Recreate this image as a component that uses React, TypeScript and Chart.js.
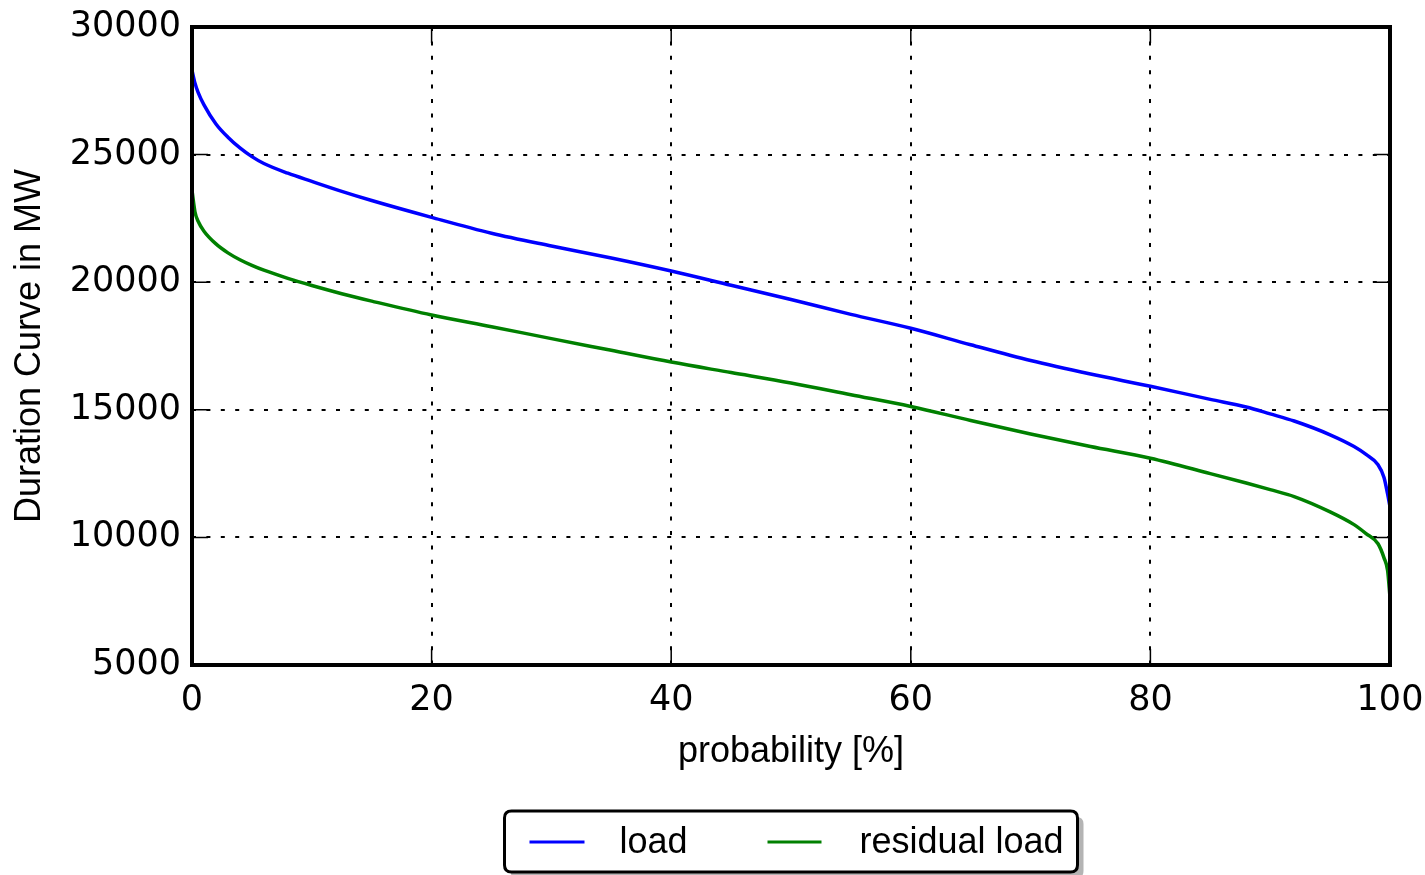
import React, { useEffect, useRef } from 'react';
import { Chart, registerables } from 'chart.js';

Chart.register(...registerables);

// ---- data ----
const probability = [0, 0.25, 0.5, 1, 2, 3, 4, 5, 6, 8, 10, 12.5, 15, 20, 25, 30, 35, 40, 45, 50, 55, 60, 65, 70, 75, 80, 85, 88, 90, 92, 95, 97, 98, 99, 99.5, 99.8, 100];
const loadMW = [28300, 27800, 27450, 26950, 26200, 25680, 25260, 24920, 24650, 24270, 23950, 23560, 23200, 22540, 21920, 21420, 20950, 20440, 19880, 19320, 18740, 18195, 17550, 16930, 16400, 15920, 15410, 15110, 14840, 14560, 14020, 13560, 13250, 12850, 12350, 11700, 11200];
const residualLoadMW = [23600, 22750, 22400, 22000, 21500, 21150, 20880, 20660, 20470, 20150, 19870, 19550, 19260, 18715, 18257, 17790, 17330, 16870, 16460, 16050, 15590, 15130, 14580, 14050, 13560, 13100, 12500, 12130, 11870, 11600, 11000, 10500, 10150, 9750, 9200, 8700, 7660];

const seriesLabels = ['load', 'residual load'];
const seriesColors = ['#0000ff', '#008000'];

const xTickValues = [0, 20, 40, 60, 80, 100];
const yTickValues = [5000, 10000, 15000, 20000, 25000, 30000];

const xTitle = 'probability [%]';
const yTitle = 'Duration Curve in MW';

const TICK_FONT = { family: "'DejaVu Sans', sans-serif", size: 35 };
const TEXT_FAMILY = "'Liberation Sans', Arial, sans-serif";

const framePlugin = {
  id: 'frameTicks',
  afterDatasetsDraw(chart: any) {
    const { ctx, chartArea } = chart;
    const { left, top, right, bottom } = chartArea;
    const xs = chart.scales.x;
    const ys = chart.scales.y;
    const len = 16;
    ctx.save();
    ctx.strokeStyle = '#000';
    ctx.lineWidth = 1.5;
    ctx.setLineDash([]);
    ctx.beginPath();
    xs.ticks.forEach((t: any) => {
      const px = xs.getPixelForValue(t.value);
      ctx.moveTo(px, bottom);
      ctx.lineTo(px, bottom - len);
      ctx.moveTo(px, top);
      ctx.lineTo(px, top + len);
    });
    ys.ticks.forEach((t: any) => {
      const py = ys.getPixelForValue(t.value);
      ctx.moveTo(left, py);
      ctx.lineTo(left + len, py);
      ctx.moveTo(right, py);
      ctx.lineTo(right - len, py);
    });
    ctx.stroke();
    ctx.lineWidth = 4;
    ctx.strokeRect(left, top, right - left, bottom - top);
    ctx.restore();
  },
};

function roundRectPath(ctx: CanvasRenderingContext2D, x: number, y: number, w: number, h: number, r: number) {
  ctx.beginPath();
  ctx.moveTo(x + r, y);
  ctx.lineTo(x + w - r, y);
  ctx.quadraticCurveTo(x + w, y, x + w, y + r);
  ctx.lineTo(x + w, y + h - r);
  ctx.quadraticCurveTo(x + w, y + h, x + w - r, y + h);
  ctx.lineTo(x + r, y + h);
  ctx.quadraticCurveTo(x, y + h, x, y + h - r);
  ctx.lineTo(x, y + r);
  ctx.quadraticCurveTo(x, y, x + r, y);
  ctx.closePath();
}

const legendPlugin = {
  id: 'boxLegend',
  afterDraw(chart: any) {
    const { ctx, chartArea } = chart;
    const cx = (chartArea.left + chartArea.right) / 2;
    const w = 573;
    const h = 61;
    const bx = cx - w / 2;
    const by = 811;
    ctx.save();
    ctx.fillStyle = '#b4b4b4';
    roundRectPath(ctx, bx + 6, by + 6, w, h, 7);
    ctx.fill();
    ctx.fillStyle = '#ffffff';
    roundRectPath(ctx, bx, by, w, h, 7);
    ctx.fill();
    ctx.strokeStyle = '#000';
    ctx.lineWidth = 3;
    ctx.stroke();

    const itemOffsets = [
      { line0: 25, line1: 80, text: 115 },
      { line0: 263, line1: 317, text: 355 },
    ];
    const midY = by + 31;
    ctx.font = `36px ${TEXT_FAMILY}`;
    ctx.textBaseline = 'middle';
    ctx.textAlign = 'left';
    chart.data.datasets.forEach((ds: any, i: number) => {
      const o = itemOffsets[i];
      ctx.strokeStyle = ds.borderColor;
      ctx.lineWidth = 3;
      ctx.beginPath();
      ctx.moveTo(bx + o.line0, midY);
      ctx.lineTo(bx + o.line1, midY);
      ctx.stroke();
      ctx.fillStyle = '#000';
      ctx.fillText(ds.label, bx + o.text, midY + 1);
    });
    ctx.restore();
  },
};

export default function App() {
  const canvasRef = useRef<HTMLCanvasElement | null>(null);

  useEffect(() => {
    if (!canvasRef.current) return;
    const series = [loadMW, residualLoadMW];
    const chart = new Chart(canvasRef.current, {
      type: 'line',
      data: {
        datasets: series.map((vals, i) => ({
          label: seriesLabels[i],
          data: probability.map((p, k) => ({ x: p, y: vals[k] })),
          borderColor: seriesColors[i],
          backgroundColor: seriesColors[i],
          borderWidth: 3.5,
          pointRadius: 0,
          cubicInterpolationMode: 'monotone' as const,
          fill: false,
        })),
      },
      options: {
        animation: false,
        responsive: false,
        events: [],
        layout: { padding: { top: 27, right: 35, left: 0, bottom: 0 } },
        plugins: {
          legend: { display: false },
          tooltip: { enabled: false },
        },
        scales: {
          x: {
            type: 'linear',
            min: 0,
            max: 100,
            afterFit: (scale: any) => {
              scale.height = 210;
              scale.paddingLeft = 0;
              scale.paddingRight = 0;
            },
            afterBuildTicks: (scale: any) => { scale.ticks = xTickValues.map((v) => ({ value: v })); },
            ticks: {
              color: '#000',
              font: TICK_FONT,
              padding: 15,
              maxRotation: 0,
              callback: (v: any) => `${v}`,
            },
            grid: { color: '#000', lineWidth: 2, drawTicks: false },
            border: { display: false, dash: [4, 10.4] },
            title: {
              display: true,
              text: xTitle,
              color: '#000',
              font: { family: TEXT_FAMILY, size: 36 },
              padding: { top: 0, bottom: 101 },
            },
          },
          y: {
            type: 'linear',
            min: 5000,
            max: 30000,
            afterFit: (scale: any) => {
              scale.width = 192;
              scale.paddingTop = 0;
              scale.paddingBottom = 0;
            },
            afterBuildTicks: (scale: any) => { scale.ticks = yTickValues.map((v) => ({ value: v })); },
            ticks: {
              color: '#000',
              font: TICK_FONT,
              padding: 11,
              callback: (v: any) => `${v}`,
            },
            grid: { color: '#000', lineWidth: 2, drawTicks: false },
            border: { display: false, dash: [4, 10.4] },
            title: {
              display: true,
              text: yTitle,
              color: '#000',
              font: { family: TEXT_FAMILY, size: 36 },
              padding: { top: 8, bottom: 0 },
            },
          },
        },
      },
      plugins: [framePlugin, legendPlugin],
    } as any);
    return () => chart.destroy();
  }, []);

  return (
    <div style={{ position: 'fixed', left: 0, top: 0, width: 1425, height: 875, background: '#fff' }}>
      <canvas ref={canvasRef} width={1425} height={875} style={{ display: 'block', width: 1425, height: 875 }} />
    </div>
  );
}
